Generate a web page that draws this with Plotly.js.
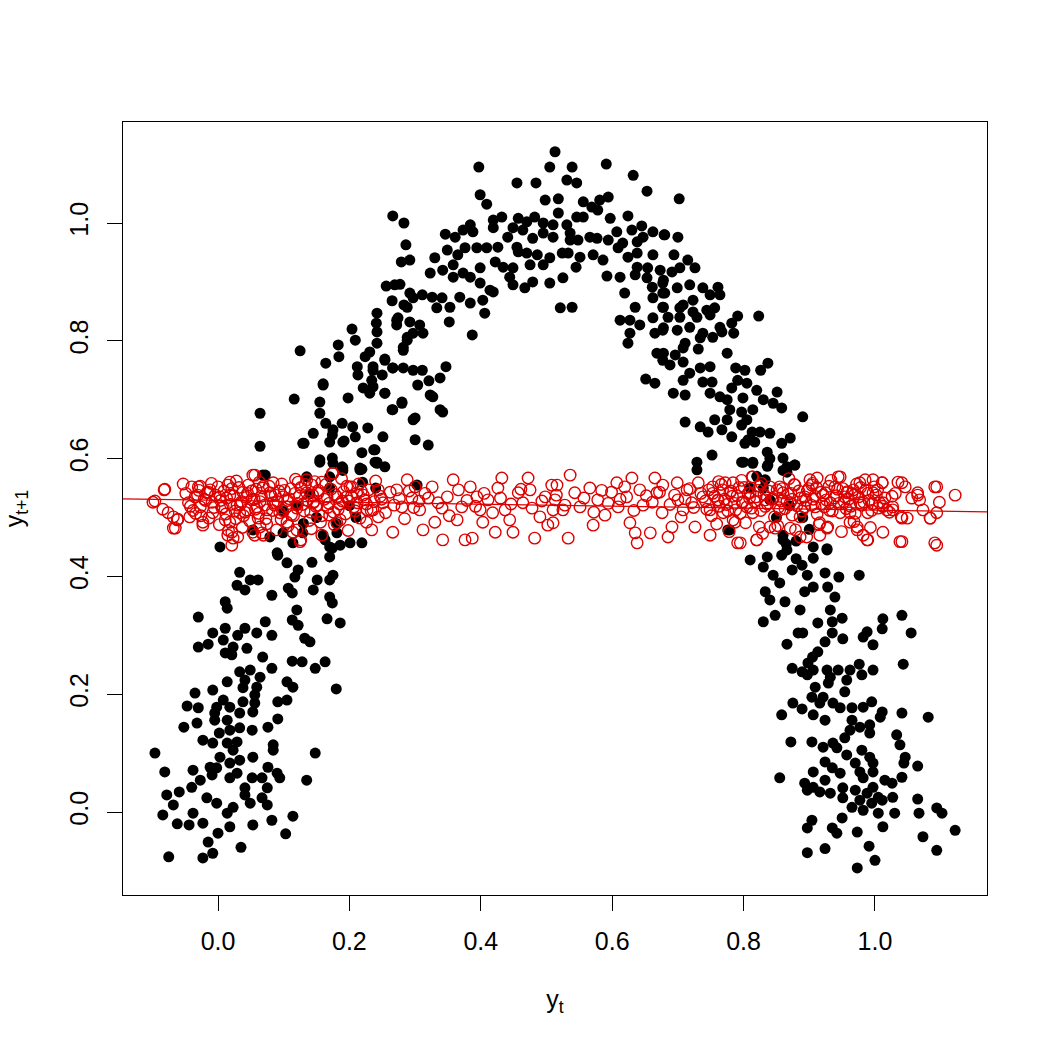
<!DOCTYPE html>
<html>
<head>
<meta charset="utf-8">
<script src="https://cdn.plot.ly/plotly-3.0.1.min.js"></script>
<style>html,body{margin:0;padding:0;background:#fff;}#plot{width:1050px;height:1050px;}</style>
</head>
<body>
<div id="plot"></div>
<script>
// ---- Observed pairs (y_t, y_t+1): black filled points ----
const blackX = [
-0.075,-0.023,-0.008,0.035,0.103,-0.015,0.000,-0.062,-0.084,-0.044,-0.038,-0.023,0.018,0.053,0.082,0.114,0.014,0.023,-0.002,-0.017,-0.068,-0.078,-0.059,-0.040,-0.027,-0.009,-0.002,0.018,0.029,0.041,0.049,0.067,0.075,0.075,0.067,0.052,0.041,0.094,0.076,0.090,0.135,0.148,-0.081,-0.096,-0.038,-0.012,0.003,0.018,0.033,0.053,0.023,0.014,0.029,-0.008,-0.023,0.002,0.018,0.033,0.052,0.076,0.084,0.084,-0.052,-0.032,-0.005,0.014,0.033,0.053,0.091,-0.005,-0.002,0.018,-0.030,-0.047,0.008,0.038,0.056,0.091,0.105,-0.035,-0.008,0.014,0.038,0.041,0.059,0.056,0.064,0.105,0.114,0.180,0.033,0.049,0.082,0.113,0.128,0.148,0.163,0.068,0.011,0.021,0.044,0.023,-0.030,-0.015,0.008,-0.008,0.011,0.030,0.041,0.059,0.072,0.082,0.132,0.140,-0.030,0.113,0.122,0.166,0.186,0.011,0.014,0.120,0.174,0.170,0.082,0.107,0.113,0.029,0.041,0.049,0.061,0.033,0.117,0.145,0.151,0.170,0.175,0.143,0.105,0.091,0.122,0.170,0.174,0.186,0.201,0.219,0.163,0.003,0.053,0.079,0.099,0.129,0.114,0.181,0.090,0.170,
0.064,0.064,0.116,0.160,0.155,0.155,0.198,0.164,0.145,0.129,0.174,0.189,0.205,0.170,0.190,0.209,0.228,0.219,0.239,0.155,0.174,0.190,0.216,0.239,0.135,0.068,0.170,0.125,0.183,0.204,0.209,0.242,0.241,0.274,0.272,0.242,0.288,0.242,0.231,0.282,0.184,0.224,0.254,0.164,0.212,0.236,0.266,0.213,0.234,0.250,0.160,0.221,0.231,0.254,0.280,0.266,0.175,0.192,0.251,0.237,0.242,0.254,0.219,0.189,0.131,0.266,0.283,0.286,0.279,0.256,0.277,0.265,0.283,
0.397,0.513,0.505,0.539,0.591,0.632,0.653,0.455,0.484,0.531,0.546,0.399,0.409,0.498,0.518,0.556,0.581,0.594,0.569,0.578,0.292,0.330,0.269,0.297,0.311,0.326,0.341,0.346,0.361,0.373,0.384,0.388,0.419,0.432,0.419,0.457,0.470,0.482,0.495,0.510,0.518,0.531,0.546,0.556,0.597,0.624,0.607,0.630,0.645,0.662,0.679,0.449,0.441,0.464,0.479,0.495,0.510,0.536,0.536,0.548,0.566,0.577,0.594,0.616,0.638,0.647,0.349,0.365,0.358,0.376,0.394,0.409,0.426,0.455,0.457,0.470,0.486,0.505,0.524,0.533,0.551,0.571,0.586,0.609,0.624,0.638,0.662,0.399,0.422,0.434,0.449,0.475,0.495,0.545,0.638,0.654,0.673,0.323,0.342,0.358,0.373,0.384,0.399,0.414,0.444,0.449,0.467,0.479,0.505,0.525,0.521,0.539,0.592,0.612,0.635,0.653,0.661,0.677,0.619,0.635,0.662,0.677,0.677,0.612,0.627,0.642,0.627,0.624,0.662,0.665,0.677,0.668,0.677,0.651,0.665,0.292,0.288,0.333,0.353,0.368,0.384,0.403,0.406,0.387,0.419,0.352,0.272,0.292,0.307,0.297,0.312,0.288,0.282,0.254,0.236,0.266,0.282,0.297,0.311,0.347,0.304,0.321,0.327,0.254,0.236,0.280,0.265,0.300,0.342,0.297,0.300,0.320,0.323,0.338,0.338,
0.702,0.680,0.700,0.694,0.715,0.703,0.726,0.691,0.678,0.718,0.738,0.761,0.749,0.764,0.699,0.680,0.723,0.708,0.703,0.678,0.723,0.744,0.756,0.749,0.685,0.703,0.729,0.791,0.823,0.782,0.764,0.678,0.699,0.718,0.738,0.753,0.767,0.785,0.734,0.711,0.708,0.731,0.775,0.678,0.696,0.708,0.688,0.837,0.826,0.788,0.802,0.734,0.749,0.718,0.708,0.738,0.752,0.791,0.805,0.782,0.820,0.851,0.693,0.711,0.749,0.764,0.799,0.830,0.845,0.858,0.775,0.814,0.779,0.797,0.890,0.711,0.756,0.775,0.805,0.797,0.734,0.746,0.767,0.782,0.813,0.825,0.840,0.807,0.802,0.817,0.858,0.871,0.752,0.729,0.729,0.797,0.814,0.836,0.836,0.860,0.878,0.866,
0.120,0.140,0.150,0.170,0.180,0.200,0.220,0.160,0.130,0.190,0.210,0.100,0.240,0.072,0.242,0.303,0.155,0.175,0.216,
0.820,0.840,0.850,0.860,0.830,0.870,0.880,0.860,0.810,0.890,0.840,0.900,0.833,0.865,0.927,0.779,0.810,0.880,0.776,0.860,0.866,0.800,0.814,0.837,0.866,0.878,
0.906,0.927,0.836,0.858,0.906,0.889,0.830,0.874,0.845,0.897,0.924,0.945,0.976,0.855,0.906,0.928,0.833,0.893,0.939,0.840,0.863,0.886,0.848,0.932,0.830,0.913,0.935,0.950,1.012,1.041,1.011,1.055,0.883,0.890,0.935,0.951,0.988,0.982,0.866,0.924,0.997,0.913,0.905,0.898,1.043,0.874,0.889,0.906,0.927,0.944,0.962,0.976,0.997,0.980,0.897,0.932,0.957,0.909,0.929,0.954,0.904,0.921,0.875,0.889,0.916,0.936,0.947,0.858,0.906,0.924,0.965,0.982,0.995,1.011,1.008,1.041,1.081,0.965,0.977,0.992,0.992,0.962,0.872,0.904,0.921,0.936,0.942,0.954,0.980,1.033,1.038,0.957,0.992,1.046,0.924,0.970,0.997,1.044,1.065,0.906,0.935,0.947,0.977,0.997,0.855,0.924,0.982,1.015,1.041,0.893,0.906,0.916,0.932,0.951,0.951,0.970,0.977,0.988,0.997,1.005,1.026,1.027,0.897,0.965,0.982,0.995,1.005,1.011,1.030,1.065,1.067,1.094,1.102,1.122,0.904,0.897,0.935,0.942,0.950,0.973,1.012,1.073,1.094,0.897,0.924,0.991,1.000,0.973
];
const blackY = [
-0.076,-0.078,-0.070,-0.060,-0.037,-0.051,-0.036,-0.020,-0.005,-0.022,-0.002,-0.019,-0.025,-0.022,-0.014,-0.007,-0.002,0.008,0.015,0.024,0.012,0.029,0.034,0.042,0.054,0.063,0.075,0.058,0.066,0.029,0.015,0.024,0.012,0.041,0.058,0.058,0.041,0.058,0.076,0.066,0.054,0.100,0.068,0.100,0.071,0.076,0.093,0.083,0.088,0.093,0.105,0.117,0.119,0.117,0.122,0.134,0.139,0.143,0.139,0.144,0.114,0.105,0.144,0.151,0.156,0.156,0.168,0.170,0.158,0.168,0.178,0.178,0.177,0.180,0.190,0.187,0.185,0.187,0.190,0.202,0.207,0.221,0.211,0.224,0.212,0.199,0.229,0.221,0.212,0.209,0.238,0.241,0.244,0.256,0.255,0.244,0.255,0.263,0.270,0.267,0.278,0.280,0.280,0.285,0.292,0.304,0.312,0.300,0.312,0.304,0.323,0.300,0.295,0.289,0.331,0.326,0.317,0.328,0.321,0.357,0.346,0.343,0.355,0.365,0.368,0.380,0.372,0.385,0.377,0.394,0.394,0.407,0.399,0.377,0.394,0.394,0.402,0.424,0.423,0.436,0.411,0.433,0.448,0.453,0.457,0.457,0.462,0.450,0.479,0.467,0.474,0.474,0.457,0.474,0.440,0.450,
0.677,0.621,0.701,0.725,0.696,0.677,0.703,0.660,0.643,0.626,0.640,0.660,0.654,0.628,0.628,0.637,0.652,0.610,0.615,0.598,0.601,0.584,0.584,0.594,0.569,0.572,0.569,0.783,0.793,0.820,0.801,0.847,0.830,0.839,0.827,0.815,0.806,0.796,0.781,0.789,0.773,0.773,0.769,0.762,0.756,0.750,0.754,0.742,0.733,0.742,0.727,0.720,0.711,0.711,0.696,0.683,0.649,0.630,0.637,0.615,0.594,0.586,0.582,0.586,0.626,1.012,1.000,0.963,0.934,0.893,0.896,0.868,0.861,
1.095,1.121,1.095,1.095,1.100,1.081,1.054,1.068,1.068,1.073,1.068,1.048,1.032,1.039,1.041,1.036,1.039,1.044,1.027,1.022,0.937,0.941,0.895,0.873,0.878,0.874,0.873,0.981,0.976,0.988,0.997,0.985,1.005,1.010,0.992,1.008,1.002,1.010,1.000,0.997,1.017,0.997,1.010,1.010,1.008,1.012,0.985,0.988,0.995,0.985,0.980,0.992,0.976,0.988,0.974,0.983,0.976,0.983,0.971,0.971,0.976,0.974,0.971,0.966,0.968,0.976,0.954,0.946,0.929,0.958,0.958,0.958,0.959,0.959,0.951,0.949,0.946,0.941,0.949,0.949,0.942,0.946,0.937,0.958,0.942,0.949,0.946,0.924,0.934,0.925,0.924,0.929,0.929,0.925,0.925,0.924,0.920,0.915,0.920,0.908,0.915,0.908,0.898,0.886,0.908,0.895,0.890,0.900,0.898,0.907,0.856,0.857,0.910,0.908,0.912,0.907,0.891,0.898,0.881,0.857,0.873,0.881,0.857,0.835,0.835,0.827,0.813,0.796,0.839,0.813,0.818,0.779,0.767,0.735,0.728,0.881,0.857,0.856,0.857,0.874,0.864,0.869,0.847,0.810,0.883,0.832,0.835,0.832,0.827,0.813,0.813,0.801,0.784,0.767,0.756,0.754,0.754,0.750,0.750,0.756,0.725,0.732,0.705,0.711,0.722,0.694,0.683,0.669,0.679,0.666,0.632,0.623,0.708,0.683,0.737,
1.041,0.980,0.976,0.946,0.937,0.924,0.924,0.917,0.903,0.895,0.890,0.891,0.878,0.878,0.890,0.881,0.869,0.861,0.856,0.857,0.849,0.852,0.856,0.844,0.840,0.840,0.840,0.842,0.842,0.830,0.823,0.822,0.818,0.823,0.813,0.806,0.815,0.813,0.805,0.796,0.788,0.786,0.779,0.779,0.776,0.764,0.759,0.762,0.750,0.754,0.750,0.754,0.756,0.745,0.733,0.730,0.730,0.733,0.728,0.720,0.716,0.713,0.711,0.708,0.711,0.705,0.703,0.700,0.694,0.686,0.700,0.683,0.683,0.679,0.671,0.662,0.666,0.666,0.666,0.657,0.654,0.645,0.649,0.637,0.645,0.645,0.643,0.632,0.626,0.628,0.626,0.635,0.606,0.594,0.581,0.594,0.592,0.611,0.587,0.601,0.589,0.577,
0.520,0.540,0.500,0.550,0.490,0.520,0.560,0.470,0.490,0.580,0.500,0.510,0.550,0.572,0.592,0.555,0.594,0.592,0.581,
0.570,0.530,0.500,0.470,0.550,0.520,0.460,0.580,0.550,0.500,0.600,0.480,0.564,0.455,0.445,0.479,0.428,0.430,0.479,0.462,0.445,0.594,0.594,0.589,0.586,0.589,
0.450,0.447,0.433,0.436,0.431,0.419,0.416,0.411,0.402,0.402,0.406,0.399,0.402,0.389,0.382,0.382,0.374,0.374,0.365,0.360,0.357,0.343,0.334,0.343,0.323,0.321,0.323,0.329,0.328,0.334,0.311,0.304,0.304,0.304,0.304,0.294,0.306,0.297,0.285,0.289,0.284,0.272,0.263,0.253,0.251,0.244,0.238,0.241,0.241,0.241,0.241,0.251,0.241,0.233,0.233,0.229,0.224,0.212,0.219,0.204,0.195,0.195,0.185,0.175,0.185,0.185,0.177,0.165,0.165,0.156,0.177,0.178,0.187,0.170,0.161,0.168,0.161,0.156,0.144,0.148,0.134,0.139,0.119,0.119,0.110,0.117,0.109,0.126,0.105,0.131,0.114,0.097,0.093,0.093,0.085,0.083,0.083,0.083,0.078,0.068,0.075,0.066,0.068,0.068,0.058,0.054,0.058,0.054,0.059,0.049,0.042,0.034,0.032,0.041,0.024,0.037,0.020,0.032,0.042,0.025,0.049,0.025,0.037,0.008,0.003,0.015,-0.002,0.020,-0.002,0.022,-0.002,0.007,-0.002,-0.031,-0.014,-0.027,-0.027,-0.036,-0.010,-0.034,-0.025,-0.042,-0.065,-0.069,-0.062,-0.058,-0.082,-0.095
];

// ---- Fitted values (y_t, predicted y_t+1): red open circles ----
const redX = [
-0.096,-0.081,-0.053,-0.084,-0.076,-0.068,-0.061,-0.065,-0.043,-0.040,-0.027,-0.035,-0.027,-0.023,-0.015,-0.009,-0.008,0.000,0.003,0.008,0.015,0.018,0.018,0.021,0.023,0.021,0.029,0.033,0.038,0.046,0.053,0.052,0.059,0.053,0.067,0.061,0.068,0.079,0.075,0.084,0.094,0.099,0.105,0.114,0.120,0.122,0.126,0.135,0.143,0.151,0.158,0.166,0.170,0.174,0.181,0.196,0.204,0.212,0.221,0.227,0.234,0.244,0.251,0.244,0.266,0.272,0.280,0.288,0.295,0.300,0.307,0.312,0.320,0.326,0.330,0.341,0.342,0.349,0.358,0.364,0.371,0.376,0.384,0.387,0.394,0.399,0.403,0.411,0.422,0.426,0.432,0.437,0.444,0.449,0.457,0.464,0.472,0.475,0.482,0.490,0.498,0.502,0.508,0.510,
0.536,0.516,0.513,0.525,0.510,0.533,0.543,0.551,0.566,0.571,0.578,0.589,0.599,0.607,0.609,0.622,0.627,0.635,0.638,0.630,0.642,0.647,0.658,0.665,0.668,0.676,0.677,0.685,0.691,0.699,0.700,0.708,0.714,0.721,0.726,0.731,0.738,0.749,0.749,0.753,0.761,0.769,0.779,0.784,0.787,0.791,0.798,0.810,0.813,0.814,0.820,0.824,0.833,0.840,0.848,0.855,0.860,0.871,0.871,0.878,0.886,0.893,0.896,0.904,0.909,0.916,0.921,0.927,0.932,0.939,0.944,0.947,0.954,0.962,0.967,0.973,0.977,0.985,0.988,0.989,0.997,1.005,1.011,1.012,1.018,1.027,1.035,1.038,1.040,1.046,1.049,1.056,1.065,1.068,1.073,1.084,1.094,1.094,1.094,1.098,1.122,
-0.099,-0.082,-0.062,-0.068,-0.030,-0.023,-0.017,0.011,0.018,0.015,0.030,0.044,0.056,0.056,0.064,0.084,0.120,0.125,0.135,0.145,0.175,0.186,0.201,
0.772,0.784,0.795,0.814,0.820,0.840,0.855,0.874,0.886,0.901,0.912,0.916,0.928,0.947,0.957,0.962,0.973,0.982,0.989,0.977,0.997,1.011,1.012,1.027,1.041,1.041,1.041,1.065,1.091,1.091,1.084,
-0.045,-0.038,-0.031,-0.026,-0.019,-0.012,-0.006,0.004,0.009,0.012,0.019,0.024,0.027,0.032,0.036,0.041,0.045,0.048,0.055,0.058,0.062,0.066,0.071,0.074,0.078,0.083,0.087,0.091,0.096,0.101,0.104,0.108,0.112,0.117,0.121,0.126,0.131,0.136,0.139,0.144,0.149,0.153,0.158,0.162,0.167,0.172,0.176,0.181,0.185,0.191,0.194,0.199,0.207,0.211,0.216,0.223,0.229,0.233,0.238,0.247,0.255,0.262,0.268,0.276,0.284,0.291,0.298,0.306,
0.002,0.016,0.037,0.069,0.089,0.107,0.142,0.158,0.177,0.198,0.226,-0.010,0.028,0.063,0.097,0.118,0.147,0.188,0.214,0.240,
0.315,0.335,0.352,0.366,0.379,0.392,0.405,0.418,0.430,0.446,0.461,0.478,0.493,0.515,0.528,0.557,0.572,0.584,0.594,0.612,0.619,0.633,0.652,0.661,0.672,0.688,0.695,0.705,0.711,0.718,0.724,0.735,
0.742,0.747,0.751,0.756,0.763,0.766,0.771,0.776,0.781,0.786,0.790,0.795,0.801,0.805,0.809,0.817,0.822,0.826,0.831,0.836,0.843,0.847,0.851,0.857,0.863,0.868,0.874,0.881,0.884,0.889,0.895,0.899,0.903,0.908,0.912,0.918,0.923,0.926,0.930,0.935,0.941,0.945,0.951,0.956,0.960,0.965,0.970,0.975,0.980,0.986,0.991,0.995,1.002,1.007,1.015,1.022,1.031,
0.759,0.778,0.803,0.829,0.852,0.879,0.915,0.949,0.968,0.993,0.762,0.797,0.827,0.869,0.905,0.933,0.972,0.999,
-0.049,-0.042,-0.034,-0.029,-0.021,-0.014,-0.004,0.006,0.013,0.021,0.026,0.034,0.039,0.043,0.051,0.057,0.064,0.069,0.073,0.081,0.086,0.093,0.098,0.106,0.111,0.115,0.124,0.129,0.133,0.141,0.146,0.152,0.156,0.164,0.169,0.178,0.183,0.189,0.196,0.203,0.209,0.218,0.226,0.236,0.249,
0.744,0.753,0.761,0.768,0.774,0.783,0.788,0.793,0.799,0.807,0.812,0.819,0.824,0.833,0.838,0.845,0.853,0.859,0.866,0.872,0.877,0.887,0.893,0.897,0.906,0.911,0.919,0.925,0.931,0.938,0.943,0.953,0.958,0.963,0.969,0.978,0.983,0.989,0.996,1.004,1.012,1.026
];
const redY = [
0.528,0.548,0.557,0.514,0.508,0.501,0.497,0.482,0.501,0.552,0.553,0.535,0.518,0.492,0.543,0.526,0.508,0.552,0.535,0.518,0.555,0.538,0.492,0.475,0.465,0.453,0.521,0.508,0.543,0.555,0.572,0.530,0.518,0.475,0.474,0.499,0.550,0.542,0.513,0.525,0.508,0.535,0.492,0.475,0.516,0.560,0.462,0.542,0.555,0.521,0.560,0.535,0.504,0.575,0.491,0.535,0.552,0.525,0.538,0.513,0.479,0.547,0.525,0.501,0.475,0.547,0.518,0.564,0.533,0.552,0.513,0.479,0.533,0.552,0.492,0.516,0.462,0.535,0.564,0.496,0.518,0.462,0.552,0.465,0.535,0.513,0.492,0.530,0.475,0.550,0.567,0.513,0.496,0.475,0.542,0.525,0.567,0.547,0.465,0.501,0.535,0.487,0.555,0.513,
0.572,0.555,0.530,0.513,0.491,0.465,0.542,0.518,0.550,0.487,0.530,0.504,0.543,0.559,0.518,0.535,0.491,0.474,0.457,0.567,0.547,0.521,0.474,0.567,0.542,0.508,0.555,0.467,0.484,0.559,0.530,0.513,0.547,0.525,0.484,0.559,0.535,0.513,0.470,0.552,0.530,0.508,0.542,0.559,0.492,0.457,0.525,0.542,0.569,0.508,0.462,0.484,0.530,0.552,0.482,0.513,0.542,0.525,0.482,0.555,0.501,0.535,0.467,0.555,0.518,0.491,0.538,0.482,0.525,0.552,0.569,0.508,0.535,0.492,0.547,0.479,0.525,0.564,0.462,0.508,0.542,0.516,0.559,0.475,0.513,0.518,0.560,0.459,0.501,0.552,0.499,0.533,0.542,0.530,0.513,0.499,0.508,0.552,0.453,0.526,0.538,
0.526,0.547,0.496,0.482,0.552,0.487,0.542,0.496,0.560,0.470,0.467,0.513,0.572,0.470,0.484,0.559,0.479,0.459,0.564,0.525,0.575,0.496,0.552,
0.559,0.496,0.457,0.569,0.462,0.484,0.552,0.504,0.467,0.564,0.567,0.470,0.484,0.569,0.542,0.508,0.484,0.470,0.462,0.559,0.564,0.559,0.525,0.513,0.559,0.499,0.459,0.538,0.552,0.457,0.499,
0.525,0.512,0.538,0.503,0.529,0.547,0.517,0.529,0.545,0.506,0.522,0.537,0.498,0.551,0.527,0.509,0.541,0.494,0.531,0.548,0.507,0.536,0.521,0.489,0.553,0.512,0.538,0.527,0.497,0.546,0.518,0.532,0.505,0.541,0.524,0.551,0.511,0.529,0.495,0.538,0.519,0.546,0.503,0.531,0.517,0.548,0.509,0.535,0.523,0.544,0.506,0.528,0.518,0.541,0.499,0.530,0.547,0.512,0.527,0.536,0.508,0.543,0.521,0.532,0.498,0.545,0.517,0.528,
0.488,0.478,0.483,0.470,0.479,0.486,0.481,0.470,0.488,0.478,0.492,0.558,0.562,0.560,0.557,0.565,0.561,0.566,0.557,0.562,
0.541,0.525,0.503,0.547,0.529,0.519,0.541,0.508,0.533,0.523,0.548,0.516,0.528,0.538,0.521,0.533,0.509,0.546,0.524,0.531,0.552,0.512,0.537,0.526,0.543,0.522,0.538,0.501,0.532,0.549,0.517,0.541,
0.528,0.547,0.503,0.536,0.519,0.556,0.531,0.511,0.545,0.524,0.537,0.507,0.551,0.518,0.533,0.527,0.546,0.512,0.539,0.523,0.531,0.501,0.547,0.528,0.515,0.540,0.531,0.520,0.545,0.511,0.529,0.549,0.521,0.536,0.506,0.543,0.518,0.530,0.553,0.511,0.537,0.524,0.549,0.515,0.531,0.541,0.507,0.535,0.521,0.547,0.529,0.512,0.538,0.525,0.533,0.509,0.541,
0.489,0.476,0.491,0.473,0.486,0.479,0.488,0.476,0.493,0.483,0.561,0.563,0.558,0.566,0.558,0.563,0.557,0.552,
0.541,0.519,0.507,0.546,0.531,0.499,0.538,0.516,0.533,0.549,0.511,0.522,0.503,0.534,0.545,0.514,0.527,0.553,0.498,0.537,0.521,0.545,0.512,0.529,0.549,0.503,0.537,0.522,0.556,0.509,0.527,0.541,0.492,0.556,0.524,0.539,0.514,0.528,0.553,0.536,0.511,0.545,0.523,0.513,0.531,
0.514,0.541,0.529,0.547,0.522,0.536,0.513,0.551,0.527,0.541,0.516,0.535,0.553,0.519,0.545,0.532,0.517,0.549,0.528,0.541,0.556,0.533,0.518,0.545,0.531,0.551,0.523,0.542,0.512,0.533,0.548,0.527,0.544,0.519,0.539,0.551,0.526,0.541,0.523,0.547,0.519,0.536
];

// ---- Fitted regression line (read at the plot edges) ----
const lineX = [-0.1446, 1.1705];
const lineY = [0.5316, 0.5097];

// ---- Axes ----
const xRange = [-0.1446, 1.1705];
const yRange = [-0.1409, 1.1715];
const tickVals = [0, 0.2, 0.4, 0.6, 0.8, 1.0];
const tickText = ['0.0', '0.2', '0.4', '0.6', '0.8', '1.0'];

const FONT = 'Liberation Sans, Arial, Helvetica, sans-serif';
const RED = '#DD0000';

const traces = [
  {x: blackX, y: blackY, type: 'scatter', mode: 'markers', name: 'observed',
   marker: {color: '#000000', size: 11, line: {width: 0}}, hoverinfo: 'x+y'},
  {x: redX, y: redY, type: 'scatter', mode: 'markers', name: 'fitted',
   marker: {symbol: 'circle-open', color: RED, size: 11.5, line: {width: 1.4, color: RED}}},
  {x: lineX, y: lineY, type: 'scatter', mode: 'lines', name: 'fit line',
   line: {color: RED, width: 1.3}, hoverinfo: 'skip'}
];

const axisCommon = {
  showgrid: false, zeroline: false, showline: true, mirror: true,
  linecolor: '#000', linewidth: 1.2, ticks: 'outside', ticklen: 15, tickwidth: 1.2, tickcolor: '#000',
  tickvals: tickVals, ticktext: tickText, tickfont: {family: FONT, size: 25, color: '#000'},
  automargin: false, fixedrange: true
};

const layout = {
  width: 1050, height: 1050,
  margin: {l: 123, r: 63, t: 122, b: 155, pad: 0},
  paper_bgcolor: '#fff', plot_bgcolor: '#fff',
  showlegend: false,
  font: {family: FONT, size: 25, color: '#000'},
  xaxis: Object.assign({}, axisCommon, {
    range: xRange, ticklabelstandoff: 9,
    title: {text: 'y<sub>t</sub>', font: {family: FONT, size: 25, color: '#000'}, standoff: 36}
  }),
  yaxis: Object.assign({}, axisCommon, {
    range: yRange, tickangle: -90, ticklabelstandoff: 9,
    title: {text: 'y<sub>t+1</sub>', font: {family: FONT, size: 25, color: '#000'}, standoff: 38}
  })
};

Plotly.newPlot('plot', traces, layout, {displayModeBar: false, responsive: false});
</script>
</body>
</html>
